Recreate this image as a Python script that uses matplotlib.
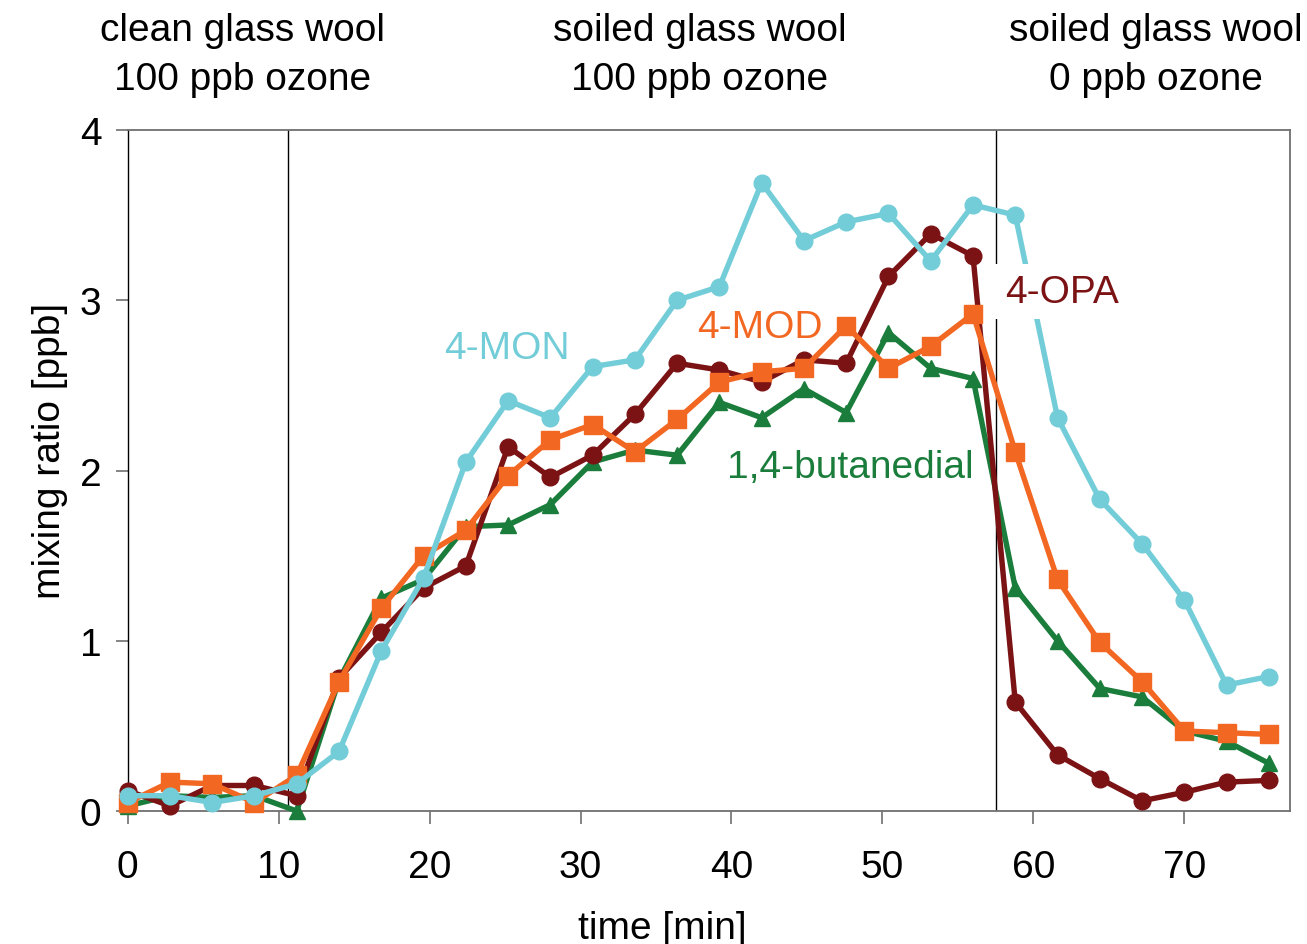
import matplotlib
matplotlib.use("Agg")
import matplotlib.pyplot as plt

plt.rcParams['font.family'] = ['Liberation Sans', 'DejaVu Sans']

# time axis (min)
time_min = [0.0, 2.8, 5.6, 8.4, 11.2, 14.0, 16.8, 19.6, 22.4, 25.2, 28.0, 30.8,
            33.6, 36.4, 39.2, 42.0, 44.8, 47.6, 50.4, 53.2, 56.0, 58.8, 61.6,
            64.4, 67.2, 70.0, 72.8, 75.6]

mon = [0.09, 0.09, 0.05, 0.09, 0.16, 0.35, 0.94, 1.37, 2.05, 2.41, 2.31, 2.61,
       2.65, 3.00, 3.08, 3.69, 3.35, 3.46, 3.51, 3.23, 3.56, 3.50, 2.31, 1.83,
       1.57, 1.24, 0.74, 0.79]
opa = [0.12, 0.03, 0.15, 0.15, 0.09, 0.78, 1.05, 1.31, 1.44, 2.14, 1.96, 2.09,
       2.33, 2.63, 2.59, 2.52, 2.65, 2.63, 3.14, 3.39, 3.26, 0.64, 0.33, 0.19,
       0.06, 0.11, 0.17, 0.18]
mod = [0.05, 0.17, 0.16, 0.05, 0.21, 0.76, 1.19, 1.50, 1.65, 1.97, 2.18, 2.27,
       2.11, 2.30, 2.52, 2.58, 2.60, 2.85, 2.60, 2.73, 2.92, 2.11, 1.36, 0.99,
       0.76, 0.47, 0.46, 0.45]
but = [0.03, 0.09, 0.08, 0.09, 0.00, 0.77, 1.25, 1.36, 1.67, 1.68, 1.80, 2.05,
       2.12, 2.09, 2.40, 2.31, 2.48, 2.34, 2.81, 2.60, 2.54, 1.31, 1.00, 0.72,
       0.67, 0.47, 0.41, 0.28]

phase_edges = [10.65, 57.5]
phase_line1 = ["clean glass wool", "soiled glass wool", "soiled glass wool"]
phase_line2 = ["100 ppb ozone", "100 ppb ozone", "0 ppb ozone"]
phase_centers = [7.6, 37.9, 68.1]

c_mon = '#73CDD8'
c_opa = '#7B1315'
c_mod = '#F26722'
c_but = '#1B7D3B'

fs = 28

fig = plt.figure(figsize=(13.07, 9.45), dpi=100)
ax = fig.add_axes([0.0977, 0.1407, 0.8893, 0.7207])

lw = 3.9
ax.plot(time_min, but, color=c_but, lw=lw, marker='^', ms=12, clip_on=False, zorder=3)
ax.plot(time_min, opa, color=c_opa, lw=lw, marker='o', ms=12, clip_on=False, zorder=4)
ax.plot(time_min, mod, color=c_mod, lw=lw, marker='s', ms=12.5, clip_on=False, zorder=5)
ax.plot(time_min, mon, color=c_mon, lw=lw, marker='o', ms=12, clip_on=False, zorder=6)

for xe in phase_edges:
    ax.axvline(xe, color='black', lw=1.0, zorder=2)

ax.set_xlim(0, 77)
ax.set_ylim(0, 4)
ax.set_xticks([0, 10, 20, 30, 40, 50, 60, 70])
ax.set_yticks([0, 1, 2, 3, 4])
ax.tick_params(axis='both', labelsize=fs, length=9, width=1.2, color='#707070',
               direction='out')
ax.tick_params(axis='x', pad=18)
ax.tick_params(axis='y', pad=10)
for side, sp in ax.spines.items():
    sp.set_color('#707070')
    sp.set_linewidth(1.3)
ax.spines['left'].set_color('black')
ax.spines['left'].set_linewidth(1.0)

ax.set_xlabel('time [min]', fontsize=fs, labelpad=12)
ax.set_ylabel('mixing ratio [ppb]', fontsize=fs, labelpad=8)
ax.xaxis.set_label_coords(0.46, -0.145)
ax.yaxis.get_label().set_y(0.53)

# series labels
ax.text(25.1, 2.72, '4-MON', color=c_mon, fontsize=fs, ha='center', va='center', zorder=7)
ax.text(41.9, 2.84, '4-MOD', color=c_mod, fontsize=fs, ha='center', va='center', zorder=7)
ax.text(47.9, 2.02, '1,4-butanedial', color=c_but, fontsize=fs, ha='center', va='center', zorder=7)
ax.text(61.9, 3.05, '4-OPA', color=c_opa, fontsize=fs, ha='center', va='center', zorder=7,
        bbox=dict(facecolor='white', edgecolor='none', pad=7))

for l1, l2, xc in zip(phase_line1, phase_line2, phase_centers):
    ax.text(xc, 4.59, l1, fontsize=fs, ha='center', va='center', clip_on=False)
    ax.text(xc, 4.30, l2, fontsize=fs, ha='center', va='center', clip_on=False)

fig.savefig('out.png', dpi=100)
